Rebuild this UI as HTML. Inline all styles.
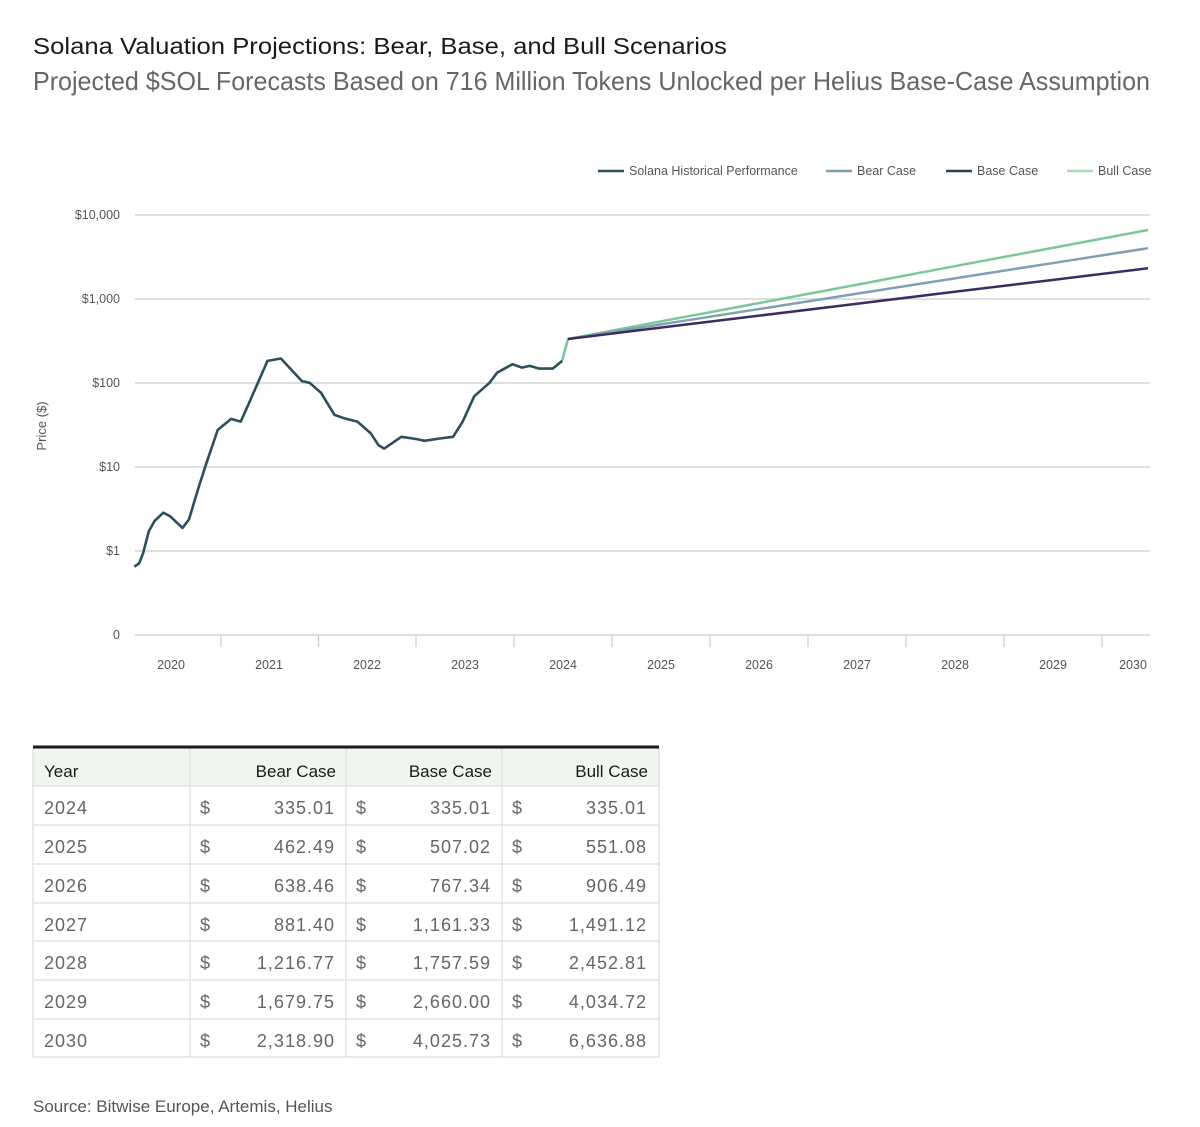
<!DOCTYPE html>
<html><head><meta charset="utf-8"><style>
html,body{margin:0;padding:0;background:#fff;}
svg{display:block;font-family:"Liberation Sans",sans-serif;}
</style></head><body>
<svg width="1200" height="1127" viewBox="0 0 1200 1127" xmlns="http://www.w3.org/2000/svg">
<rect width="1200" height="1127" fill="#fff"/>
<text x="33" y="54" font-size="23" fill="#1a1a1a" textLength="694" lengthAdjust="spacingAndGlyphs">Solana Valuation Projections: Bear, Base, and Bull Scenarios</text>
<text x="33" y="90" font-size="26" fill="#666" textLength="1117" lengthAdjust="spacingAndGlyphs">Projected $SOL Forecasts Based on 716 Million Tokens Unlocked per Helius Base-Case Assumption</text>

<!-- legend -->
<g font-size="12.5" fill="#555">
<line x1="598" y1="171" x2="624" y2="171" stroke="#2c4f5a" stroke-width="2.5"/><text x="629" y="175">Solana Historical Performance</text>
<line x1="826" y1="171" x2="852" y2="171" stroke="#7fa0b0" stroke-width="2.5"/><text x="857" y="175">Bear Case</text>
<line x1="946" y1="171" x2="972" y2="171" stroke="#2c4050" stroke-width="2.5"/><text x="977" y="175">Base Case</text>
<line x1="1067" y1="171" x2="1093" y2="171" stroke="#a8d8b8" stroke-width="2.5"/><text x="1098" y="175">Bull Case</text>
</g>

<!-- grid -->
<g stroke="#ccc" stroke-width="1.2">
<line x1="135" y1="215" x2="1150" y2="215"/>
<line x1="135" y1="299" x2="1150" y2="299"/>
<line x1="135" y1="383" x2="1150" y2="383"/>
<line x1="135" y1="467" x2="1150" y2="467"/>
<line x1="135" y1="551" x2="1150" y2="551"/>
<line x1="135" y1="635" x2="1150" y2="635"/>
<line x1="221" y1="635" x2="221" y2="647"/><line x1="318.5" y1="635" x2="318.5" y2="647"/>
<line x1="416" y1="635" x2="416" y2="647"/><line x1="514" y1="635" x2="514" y2="647"/>
<line x1="612" y1="635" x2="612" y2="647"/><line x1="710" y1="635" x2="710" y2="647"/>
<line x1="808" y1="635" x2="808" y2="647"/><line x1="906" y1="635" x2="906" y2="647"/>
<line x1="1004" y1="635" x2="1004" y2="647"/><line x1="1102" y1="635" x2="1102" y2="647"/>
</g>
<g font-size="12.5" fill="#555" text-anchor="end">
<text x="120" y="219">$10,000</text><text x="120" y="303">$1,000</text><text x="120" y="387">$100</text>
<text x="120" y="471">$10</text><text x="120" y="555">$1</text><text x="120" y="639">0</text>
</g>
<g font-size="12.5" fill="#555" text-anchor="middle">
<text x="171" y="669">2020</text><text x="269" y="669">2021</text><text x="367" y="669">2022</text>
<text x="465" y="669">2023</text><text x="563" y="669">2024</text><text x="661" y="669">2025</text>
<text x="759" y="669">2026</text><text x="857" y="669">2027</text><text x="955" y="669">2028</text>
<text x="1053" y="669">2029</text><text x="1133" y="669">2030</text>
</g>
<text transform="translate(46,426) rotate(-90)" font-size="13" fill="#555" text-anchor="middle">Price ($)</text>

<!-- projections -->
<polyline fill="none" stroke="#7cc79a" stroke-width="2.5" points="562,361 568,339 664.7,320.7 761.3,302.6 858,284.5 954.7,266.2 1051.3,248.1 1148,230"/>
<polyline fill="none" stroke="#7f9fb5" stroke-width="2.5" points="568,339 664.7,323.8 761.3,308.7 858,293.5 954.7,278.4 1051.3,263.3 1148,248.2"/>
<polyline fill="none" stroke="#3d2c60" stroke-width="2.5" points="568,339 664.7,327.1 761.3,315.4 858,303.6 954.7,291.8 1051.3,280.1 1148,268.3"/>

<!-- historical -->
<polyline fill="none" stroke="#2c4f5a" stroke-width="2.6" stroke-linejoin="round" points="134.3,566.7 139.2,563.3 143.1,553.2 148.8,531.3 154.5,521.1 163.3,512.7 169.9,516.1 182.5,527.9 189,519.4 198.6,487.4 206.2,463.8 217.7,430 231.1,418.9 240.7,421.6 248.3,404.7 267.5,360.9 280.9,358.5 301.9,381.1 309.6,382.8 321.1,392.9 334.5,414.9 344,418.2 357.4,421.6 370.8,433.4 378.5,445.2 384.2,448.6 401.4,436.8 416.8,439.1 424.4,440.8 439.7,438.5 453.1,436.8 462.7,421.6 474.2,396.3 489.5,382.8 497.1,372.7 512.5,364.2 522,367.6 529.7,365.9 539.3,368.6 552.7,368.6 562.2,360.9"/>

<!-- table -->
<rect x="33" y="748" width="626" height="38" fill="#eef6ee"/>
<g stroke="#ddd" stroke-width="1.2" fill="none">
<rect x="33" y="748" width="626" height="309"/>
<line x1="190" y1="748" x2="190" y2="1057"/><line x1="346" y1="748" x2="346" y2="1057"/><line x1="502" y1="748" x2="502" y2="1057"/>
<line x1="33" y1="786" x2="659" y2="786"/><line x1="33" y1="825" x2="659" y2="825"/><line x1="33" y1="864" x2="659" y2="864"/>
<line x1="33" y1="903" x2="659" y2="903"/><line x1="33" y1="941" x2="659" y2="941"/><line x1="33" y1="980" x2="659" y2="980"/>
<line x1="33" y1="1019" x2="659" y2="1019"/>
</g>
<line x1="33" y1="747" x2="659" y2="747" stroke="#1a1a1a" stroke-width="3"/>
<g font-size="17" fill="#1a1a1a">
<text x="44" y="777">Year</text>
<text x="336" y="777" text-anchor="end">Bear Case</text>
<text x="492" y="777" text-anchor="end">Base Case</text>
<text x="648" y="777" text-anchor="end">Bull Case</text>
</g>
<g font-size="18" fill="#666" letter-spacing="1">
<text x="44" y="814">2024</text><text x="44" y="853">2025</text><text x="44" y="892">2026</text><text x="44" y="931">2027</text><text x="44" y="969">2028</text><text x="44" y="1008">2029</text><text x="44" y="1047">2030</text>
<g>
<text x="200" y="814">$</text><text x="200" y="853">$</text><text x="200" y="892">$</text><text x="200" y="931">$</text><text x="200" y="969">$</text><text x="200" y="1008">$</text><text x="200" y="1047">$</text>
<text x="356" y="814">$</text><text x="356" y="853">$</text><text x="356" y="892">$</text><text x="356" y="931">$</text><text x="356" y="969">$</text><text x="356" y="1008">$</text><text x="356" y="1047">$</text>
<text x="512" y="814">$</text><text x="512" y="853">$</text><text x="512" y="892">$</text><text x="512" y="931">$</text><text x="512" y="969">$</text><text x="512" y="1008">$</text><text x="512" y="1047">$</text>
</g>
<g text-anchor="end">
<text x="335" y="814">335.01</text><text x="335" y="853">462.49</text><text x="335" y="892">638.46</text><text x="335" y="931">881.40</text><text x="335" y="969">1,216.77</text><text x="335" y="1008">1,679.75</text><text x="335" y="1047">2,318.90</text>
<text x="491" y="814">335.01</text><text x="491" y="853">507.02</text><text x="491" y="892">767.34</text><text x="491" y="931">1,161.33</text><text x="491" y="969">1,757.59</text><text x="491" y="1008">2,660.00</text><text x="491" y="1047">4,025.73</text>
<text x="647" y="814">335.01</text><text x="647" y="853">551.08</text><text x="647" y="892">906.49</text><text x="647" y="931">1,491.12</text><text x="647" y="969">2,452.81</text><text x="647" y="1008">4,034.72</text><text x="647" y="1047">6,636.88</text>
</g>
</g>
<text x="33" y="1112" font-size="17" fill="#555">Source: Bitwise Europe, Artemis, Helius</text>
</svg>
</body></html>
